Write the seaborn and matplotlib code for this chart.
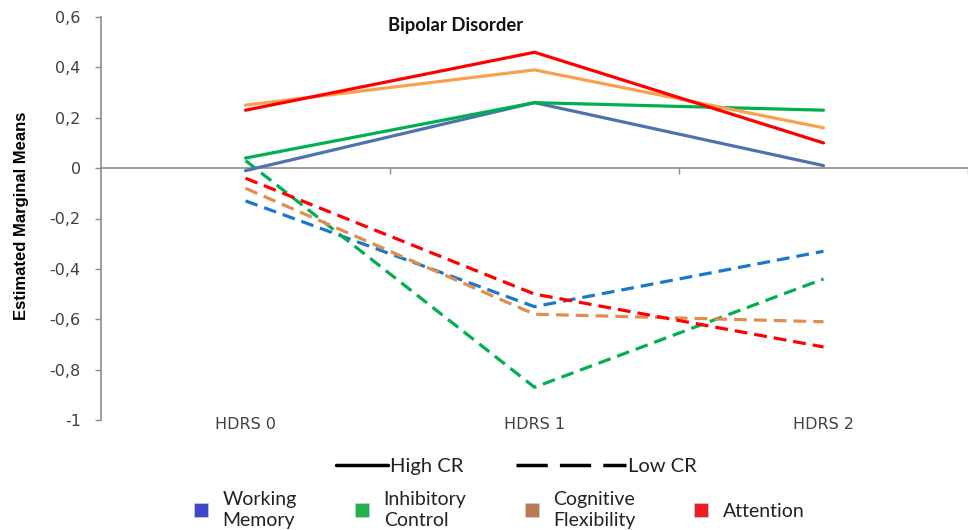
import numpy as np
import pandas as pd
import matplotlib
matplotlib.use("Agg")
import matplotlib.pyplot as plt
import seaborn as sns
from matplotlib.lines import Line2D
from matplotlib.patches import Patch
from matplotlib.ticker import FuncFormatter, FixedLocator
import matplotlib.transforms as mtransforms

# ---- data ----
time_points = ["HDRS 0", "HDRS 1", "HDRS 2"]
domains = ["Working Memory", "Inhibitory Control", "Cognitive Flexibility", "Attention"]
legend_labels = ["Working\nMemory", "Inhibitory\nControl", "Cognitive\nFlexibility", "Attention"]

high_wm = [-0.01, 0.26, 0.01]
high_ic = [0.04, 0.26, 0.23]
high_cf = [0.25, 0.39, 0.16]
high_at = [0.23, 0.46, 0.10]

low_wm = [-0.13, -0.55, -0.33]
low_ic = [0.03, -0.87, -0.44]
low_cf = [-0.08, -0.58, -0.61]
low_at = [-0.04, -0.50, -0.71]

high_colors = ["#4F72AE", "#00B050", "#F9A04F", "#FF0000"]
low_colors = ["#1A76CE", "#00B050", "#E08D4E", "#FF0000"]
legend_colors = ["#3F48CC", "#22B14C", "#B97A57", "#ED1C24"]

rows = []
for dom, hv, lv in zip(domains, [high_wm, high_ic, high_cf, high_at],
                       [low_wm, low_ic, low_cf, low_at]):
    for i, t in enumerate(time_points):
        rows.append(dict(pos=i, time=t, value=hv[i], domain=dom, cr="High CR", key=dom + " High"))
        rows.append(dict(pos=i, time=t, value=lv[i], domain=dom, cr="Low CR", key=dom + " Low"))
df = pd.DataFrame(rows)

palette = {}
for dom, hc, lc in zip(domains, high_colors, low_colors):
    palette[dom + " High"] = hc
    palette[dom + " Low"] = lc

sns.set_style("white")
plt.rcParams["font.family"] = ["DejaVu Sans"]

fig = plt.figure(figsize=(9.68, 5.30), dpi=100)
ax = fig.add_axes([101 / 968, 1 - 420 / 530, 1 - 101 / 968, (420 - 17) / 530])

hue_order = [d + " Low" for d in domains] + [d + " High" for d in domains]
sns.lineplot(data=df, x="pos", y="value", hue="key", style="cr",
             hue_order=hue_order, palette=palette,
             dashes={"High CR": "", "Low CR": (4, 2.2)},
             linewidth=2.3, legend=False, ax=ax, sort=False, estimator=None)

ax.set_xlim(-0.5, 2.5)
ax.set_ylim(-1.0, 0.6)
ax.yaxis.set_major_locator(FixedLocator(np.round(np.arange(-1.0, 0.61, 0.2), 1)))

def fmt(v, _):
    r = round(v)
    if abs(v - r) < 1e-9:
        return "0" if r == 0 else str(int(r))
    return f"{v:.1f}".replace(".", ",")
ax.yaxis.set_major_formatter(FuncFormatter(fmt))

spine_c = "#8C8C8C"
for s in ["top", "right"]:
    ax.spines[s].set_visible(False)
ax.spines["left"].set_color(spine_c)
ax.spines["left"].set_linewidth(1.2)
ax.spines["bottom"].set_position(("data", 0))
ax.spines["bottom"].set_color(spine_c)
ax.spines["bottom"].set_linewidth(1.2)
ax.spines["bottom"].set_zorder(1)

ax.tick_params(axis="y", direction="out", length=4.5, width=1, color=spine_c,
               labelsize=11.5, labelcolor="#404040", pad=10, left=True)
ax.set_xticks([0.5, 1.5, 2.5])
ax.set_xticklabels([])
ax.tick_params(axis="x", direction="out", length=4, width=1, color=spine_c, bottom=True)
ax.set_xlabel("")
ax.set_ylabel("")

trans = mtransforms.blended_transform_factory(ax.transData, ax.transAxes)
for i, t in enumerate(time_points):
    ax.text(i, -0.012, t, transform=trans, ha="center", va="center",
            fontsize=11.5, color="#404040")

# title
fig.text(456 / 968, 1 - 25 / 530, "Bipolar Disorder", ha="center", va="center",
         fontsize=13.3, fontweight="bold", family=["Lato", "DejaVu Sans"], color="#111111")

# y label
fig.text(22 / 968, 1 - 216 / 530, "Estimated Marginal Means", rotation=90,
         ha="center", va="center", fontsize=12, fontweight="bold",
         family=["Liberation Sans Narrow", "Liberation Sans", "DejaVu Sans"], color="black")

# line-style legends
lfont = {"family": ["Lato", "DejaVu Sans"], "size": 14.5}
h_solid = Line2D([], [], color="black", lw=2.5, linestyle="-")
h_dash = Line2D([], [], color="black", lw=2.5, dashes=(9, 3.5))
fs_px = 14.5 * 100 / 72
leg1 = fig.legend([h_solid], ["High CR"], loc="center left",
                  bbox_to_anchor=(336 / 968, 1 - 466 / 530), frameon=False,
                  handlelength=52 / fs_px, handletextpad=0.12, borderpad=0, borderaxespad=0,
                  prop=lfont)
leg2 = fig.legend([h_dash], ["Low CR"], loc="center left",
                  bbox_to_anchor=(516 / 968, 1 - 466 / 530), frameon=False,
                  handlelength=110 / fs_px, handletextpad=0.12, borderpad=0, borderaxespad=0,
                  prop=lfont)
for lg in (leg1, leg2):
    for t in lg.get_texts():
        t.set_color("#222222")

pfont = {"family": ["Lato", "DejaVu Sans"], "size": 14}
patches = [Patch(facecolor=c, edgecolor="#cfcfcf", linewidth=0.5) for c in legend_colors]
leg3 = fig.legend(patches, legend_labels, loc="center left", ncol=4,
                  bbox_to_anchor=(194 / 968, 1 - 510 / 530), frameon=False,
                  handlelength=0.72, handleheight=0.72, handletextpad=0.75,
                  columnspacing=3.0, borderpad=0, borderaxespad=0, prop=pfont)
for t in leg3.get_texts():
    t.set_linespacing(1.25)
    t.set_color("#222222")

fig.savefig("out.png", dpi=100)
